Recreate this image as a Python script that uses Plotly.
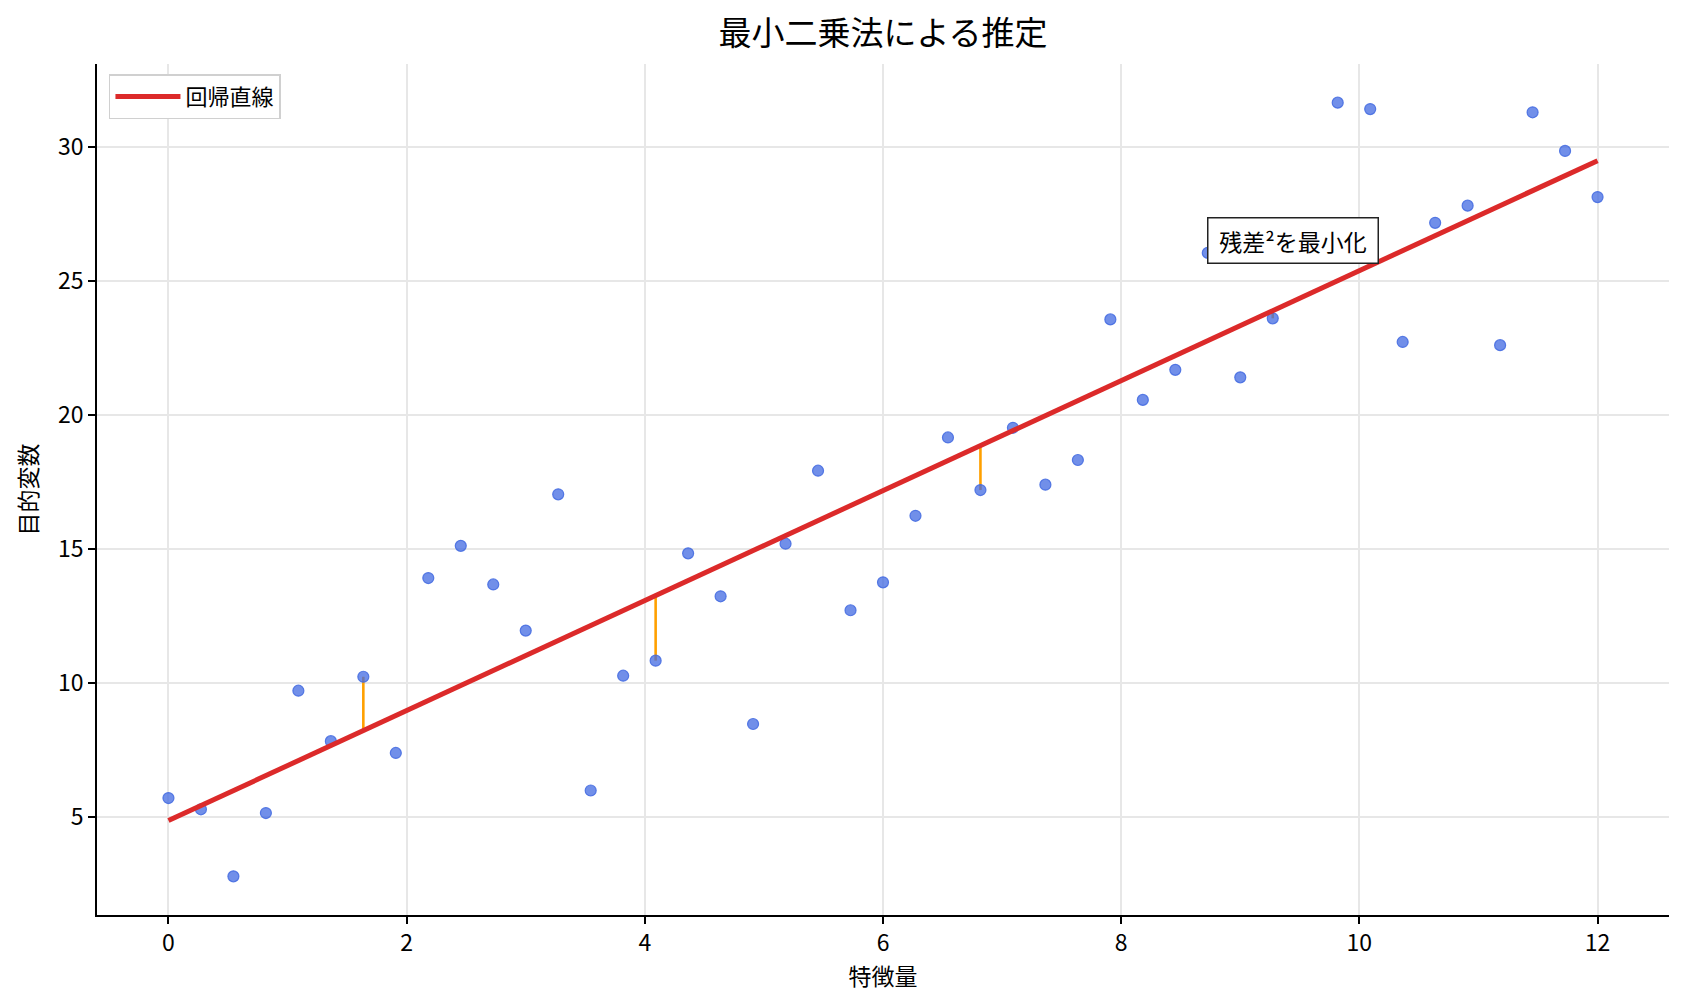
import numpy as np
import plotly.graph_objects as go

# data (45 samples on 0..12)
x_values = np.linspace(0, 12, 45)
y_values = [5.72, 5.30, 2.80, 5.16, 9.72, 7.84, 10.24, 7.40, 13.92, 15.12,
            13.68, 11.96, 17.04, 6.00, 10.28, 10.84, 14.84, 13.24, 8.48, 15.20,
            17.92, 12.72, 13.76, 16.24, 19.16, 17.20, 19.52, 17.40, 18.32, 23.56,
            20.56, 21.68, 26.04, 21.40, 23.60, 26.60, 31.64, 31.40, 22.72, 27.16,
            27.80, 22.60, 31.28, 29.84, 28.12]
residual_idx = [6, 15, 25, 34]  # points whose residual is drawn

x_ticks = [0, 2, 4, 6, 8, 10, 12]
y_ticks = [5, 10, 15, 20, 25, 30]

title_text = '最小二乗法による推定'
x_label = '特徴量'
y_label = '目的変数'
legend_label = '回帰直線'
note_text = '残差²を最小化'

FONT = 'Noto Sans CJK JP'

# least squares fit
y_arr = np.array(y_values)
slope, intercept = np.polyfit(x_values, y_arr, 1)
y_fit = intercept + slope * x_values

fig = go.Figure()

# residuals
for i in residual_idx:
    fig.add_trace(go.Scatter(x=[x_values[i], x_values[i]], y=[y_arr[i], y_fit[i]],
                             mode='lines', line=dict(color='#ffa000', width=2.6),
                             showlegend=False, hoverinfo='skip'))

# samples
fig.add_trace(go.Scatter(x=x_values, y=y_arr, mode='markers', showlegend=False,
                         marker=dict(size=11, color='rgba(65,105,225,0.75)',
                                     line=dict(color='rgba(65,105,225,0.85)', width=1.2))))

# regression line
fig.add_trace(go.Scatter(x=x_values, y=y_fit, mode='lines', name=legend_label,
                         line=dict(color='#dc2a2a', width=5)))

# note box (thin spaces give a little extra side padding)
fig.add_annotation(x=9.44, y=26.5, xref='x', yref='y',
                   text='\u2005' + note_text + '\u2005', showarrow=False,
                   font=dict(family=FONT, size=23, color='black'),
                   bgcolor='white', bordercolor='#222222', borderwidth=1.5, borderpad=5)

axis_common = dict(showline=True, linecolor='black', linewidth=1.7,
                   ticks='outside', ticklen=7, tickwidth=1.7, tickcolor='black',
                   showgrid=True, gridcolor='#e7e7e7', gridwidth=1.5, zeroline=False,
                   tickfont=dict(family=FONT, size=23, color='black'))

fig.update_layout(
    width=1684, height=1006,
    margin=dict(l=89, r=23, t=56, b=99),
    plot_bgcolor='white', paper_bgcolor='white',
    font=dict(family=FONT, color='black'),
    title=dict(text=title_text, x=0.5, xref='paper', y=1 - 25 / 1006, yanchor='middle',
               font=dict(family=FONT, size=33, color='black')),
    xaxis=dict(range=[-0.6, 12.6], tickvals=x_ticks, automargin=False,
               title=dict(text=x_label, standoff=8, font=dict(family=FONT, size=23)),
               **axis_common),
    yaxis=dict(range=[1.36, 33.08], tickvals=y_ticks, automargin=False,
               title=dict(text=y_label, standoff=14, font=dict(family=FONT, size=23)),
               **axis_common),
    legend=dict(x=0.0076, y=0.988, xanchor='left', yanchor='top', itemwidth=65,
                bgcolor='white', bordercolor='#d0d0d0', borderwidth=1.5,
                font=dict(family=FONT, size=22, color='black')),
)

fig.write_html("out.html")
